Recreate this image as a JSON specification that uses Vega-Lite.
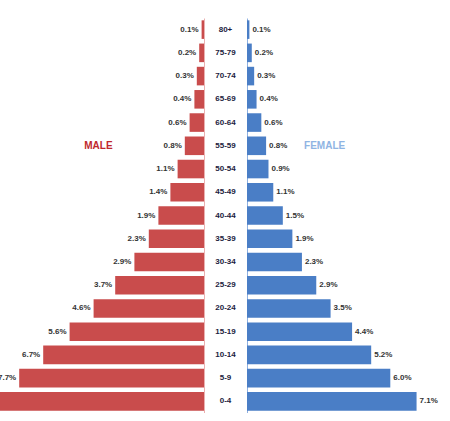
{
  "$schema": "https://vega.github.io/schema/vega-lite/v6.json",
  "padding": {"left": 0, "top": 18, "right": 0, "bottom": 0},
  "bounds": "flush",
  "spacing": 0,
  "data": {"values": [
    {"age": "80+", "male": 0.001, "female": 0.001},
    {"age": "75-79", "male": 0.002, "female": 0.002},
    {"age": "70-74", "male": 0.003, "female": 0.003},
    {"age": "65-69", "male": 0.004, "female": 0.004},
    {"age": "60-64", "male": 0.006, "female": 0.006},
    {"age": "55-59", "male": 0.008, "female": 0.008},
    {"age": "50-54", "male": 0.011, "female": 0.009},
    {"age": "45-49", "male": 0.014, "female": 0.011},
    {"age": "40-44", "male": 0.019, "female": 0.015},
    {"age": "35-39", "male": 0.023, "female": 0.019},
    {"age": "30-34", "male": 0.029, "female": 0.023},
    {"age": "25-29", "male": 0.037, "female": 0.029},
    {"age": "20-24", "male": 0.046, "female": 0.035},
    {"age": "15-19", "male": 0.056, "female": 0.044},
    {"age": "10-14", "male": 0.067, "female": 0.052},
    {"age": "5-9", "male": 0.077, "female": 0.060},
    {"age": "0-4", "male": 0.089, "female": 0.071}
  ]},
  "hconcat": [
    {
      "width": 204,
      "height": 395,
      "layer": [
        {
          "mark": {"type": "bar", "color": "#c94c4c", "clip": true},
          "encoding": {
            "y": {"field": "age", "type": "nominal", "sort": null, "scale": {"paddingInner": 0.2, "paddingOuter": 0.1},
                  "axis": {"orient": "right", "labels": false, "ticks": false, "title": null, "domainColor": "#eab0b0", "domainWidth": 1}},
            "x": {"field": "male", "type": "quantitative", "scale": {"domain": [0, 0.085], "nice": false, "reverse": true}, "axis": null}
          }
        },
        {
          "mark": {"type": "text", "align": "right", "dx": -3, "fontSize": 8, "fontWeight": "bold", "color": "#333333", "clip": true, "font": "Liberation Sans"},
          "encoding": {
            "y": {"field": "age", "type": "nominal", "sort": null},
            "x": {"field": "male", "type": "quantitative"},
            "text": {"field": "male", "format": ".1%"}
          }
        },
        {
          "data": {"values": [{}]},
          "mark": {"type": "text", "fontSize": 10, "fontWeight": "bold", "color": "#c0282d", "font": "Liberation Sans"},
          "encoding": {
            "x": {"datum": 0.044, "type": "quantitative"},
            "y": {"datum": "55-59", "type": "nominal"},
            "text": {"value": "MALE"}
          }
        }
      ]
    },
    {
      "width": 43,
      "height": 395,
      "mark": {"type": "text", "fontSize": 8, "fontWeight": "bold", "color": "#1c1c40", "font": "Liberation Sans"},
      "encoding": {
        "y": {"field": "age", "type": "nominal", "sort": null, "scale": {"paddingInner": 0.2, "paddingOuter": 0.1}, "axis": null},
        "text": {"field": "age"}
      }
    },
    {
      "width": 203,
      "height": 395,
      "layer": [
        {
          "mark": {"type": "bar", "color": "#4a7ec6", "clip": true},
          "encoding": {
            "y": {"field": "age", "type": "nominal", "sort": null, "scale": {"paddingInner": 0.2, "paddingOuter": 0.1},
                  "axis": {"orient": "left", "labels": false, "ticks": false, "title": null, "domainColor": "#8fb0e0", "domainWidth": 1}},
            "x": {"field": "female", "type": "quantitative", "scale": {"domain": [0, 0.085], "nice": false}, "axis": null}
          }
        },
        {
          "mark": {"type": "text", "align": "left", "dx": 3, "fontSize": 8, "fontWeight": "bold", "color": "#333333", "clip": true, "font": "Liberation Sans"},
          "encoding": {
            "y": {"field": "age", "type": "nominal", "sort": null},
            "x": {"field": "female", "type": "quantitative"},
            "text": {"field": "female", "format": ".1%"}
          }
        },
        {
          "data": {"values": [{}]},
          "mark": {"type": "text", "fontSize": 10, "fontWeight": "bold", "color": "#8fb4e3", "font": "Liberation Sans"},
          "encoding": {
            "x": {"datum": 0.0325, "type": "quantitative"},
            "y": {"datum": "55-59", "type": "nominal"},
            "text": {"value": "FEMALE"}
          }
        }
      ]
    }
  ],
  "config": {"view": {"stroke": null}, "background": "white"}
}
